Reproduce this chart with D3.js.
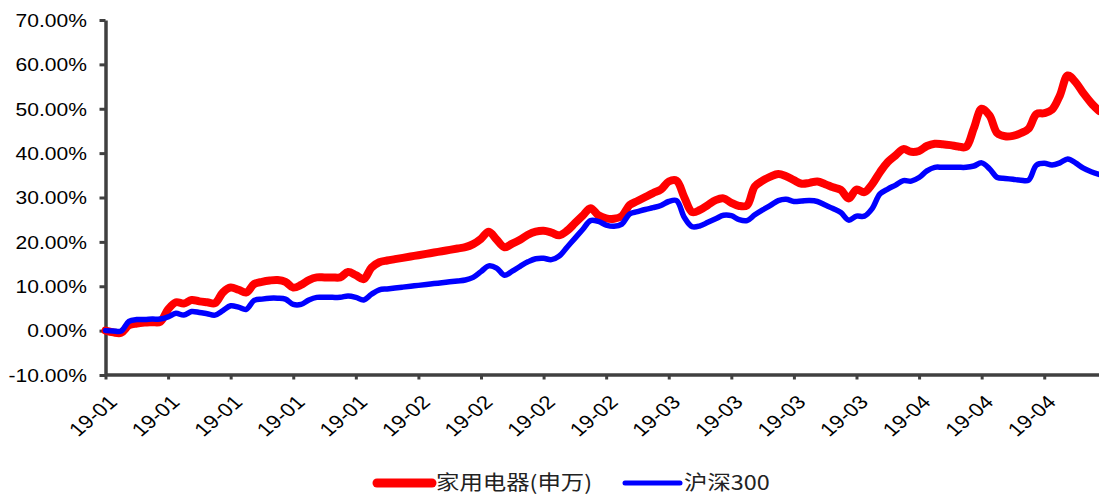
<!DOCTYPE html>
<html>
<head>
<meta charset="utf-8">
<script src="https://cdn.jsdelivr.net/npm/d3@7"></script>
<style>
body { margin: 0; background: #fff; }
svg { display: block; }
</style>
</head>
<body>
<div id="chart"></div>
<script>
// tick labels shown under every 8th point
const tickLabels = ["19-01", "19-01", "19-01", "19-01", "19-01", "19-02", "19-02", "19-02",
    "19-02", "19-03", "19-03", "19-03", "19-03", "19-04", "19-04", "19-04"];

const seriesNames = ["家用电器(申万)", "沪深300"];

// cumulative return, %
const homeAppliances = [
    0.0, -0.4, -0.5, 1.2, 1.6, 1.8, 1.9, 2.0, 4.8, 6.4,
    6.1, 6.9, 6.6, 6.4, 6.2, 8.6, 9.7, 9.2, 8.6, 10.5,
    11.0, 11.3, 11.4, 11.0, 9.7, 10.3, 11.4, 12.0, 12.0, 12.0,
    12.0, 13.2, 12.5, 11.6, 14.2, 15.4, 15.8, 16.1, 16.4, 16.7,
    17.0, 17.3, 17.6, 17.9, 18.2, 18.5, 18.8, 19.5, 20.7, 22.3,
    20.5, 18.8, 19.6, 20.5, 21.6, 22.3, 22.5, 22.1, 21.5, 22.5,
    24.2, 25.9, 27.6, 26.0, 25.3, 25.2, 25.8, 28.3, 29.2, 30.1,
    31.0, 31.8, 33.6, 33.8, 30.0, 26.7, 27.2, 28.3, 29.4, 29.8,
    28.8, 28.1, 28.2, 32.5, 33.8, 34.7, 35.3, 34.8, 33.9, 33.1,
    33.3, 33.6, 33.0, 32.3, 31.7, 29.8, 31.8, 31.2, 33.0, 35.7,
    38.0, 39.5, 40.9, 40.3, 40.5, 41.6, 42.1, 42.0, 41.8, 41.5,
    41.4, 45.6, 50.0, 48.5, 44.5, 43.8, 43.9, 44.5, 45.5, 48.8,
    49.0, 49.8, 53.0, 57.5, 56.0, 53.5, 51.3, 49.5
];

const csi300 = [
    0.0, -0.1, -0.1, 2.1, 2.5, 2.5, 2.6, 2.6, 3.1, 3.9,
    3.5, 4.3, 4.1, 3.8, 3.5, 4.5, 5.6, 5.3, 4.8, 6.8,
    7.1, 7.3, 7.3, 7.1, 5.9, 5.9, 6.9, 7.5, 7.5, 7.5,
    7.5, 7.8, 7.5, 6.9, 8.2, 9.2, 9.4, 9.6, 9.8, 10.0,
    10.2, 10.4, 10.6, 10.8, 11.0, 11.2, 11.4, 12.0, 13.3, 14.6,
    14.1, 12.5, 13.4, 14.5, 15.5, 16.2, 16.3, 16.0, 16.8, 18.8,
    20.8, 22.8, 24.8, 24.6, 23.8, 23.5, 24.0, 26.3, 26.8, 27.3,
    27.7, 28.2, 29.1, 29.3, 25.5, 23.4, 23.6, 24.4, 25.2, 26.0,
    25.9, 25.0, 24.8, 26.1, 27.2, 28.2, 29.3, 29.6, 29.1, 29.2,
    29.3, 29.1, 28.3, 27.5, 26.6, 24.9, 25.8, 25.8, 27.5, 30.8,
    31.9, 32.8, 33.8, 33.7, 34.5, 36.0, 36.8, 36.8, 36.8, 36.8,
    36.8, 37.1, 37.8, 36.5, 34.5, 34.3, 34.1, 33.9, 33.9, 37.3,
    37.7, 37.3, 37.8, 38.7, 37.8, 36.6, 35.8, 35.2
];

const yTicks = [-10, 0, 10, 20, 30, 40, 50, 60, 70];

let width = 1099;
let height = 496;
let stretch = 1.17;   // text in the original is widened
let axisColor = "#404040";
let colors = ["#ff0000", "#0000ff"];
let lineWidths = [8, 5.5];

let svg = d3.select("#chart").append("svg")
    .attr("width", width)
    .attr("height", height);

let x = d3.scaleLinear().domain([0, homeAppliances.length - 1]).range([105.5, 1099]);
let y = d3.scaleLinear().domain([-10, 70]).range([375, 20]);

// y axis
let yAxis = svg.append("g")
    .attr("transform", "translate(105.5,0)")
    .call(d3.axisLeft(y).tickValues(yTicks).tickSize(6).tickSizeOuter(0));

yAxis.select(".domain").attr("stroke", axisColor).attr("stroke-width", 3.5);
yAxis.selectAll(".tick line").attr("stroke", axisColor).attr("stroke-width", 3);
yAxis.selectAll(".tick text")
    .attr("x", null)
    .attr("dy", "0.35em")
    .attr("transform", "translate(-18.5,0) scale(" + stretch + ",1)")
    .attr("text-anchor", "end")
    .attr("fill", "#000")
    .style("font-family", "'Liberation Sans', Arial, sans-serif")
    .style("font-size", "18px")
    .text(d => d.toFixed(2) + "%");

// x axis
let xAxis = svg.append("g")
    .attr("transform", "translate(0,374.5)")
    .call(d3.axisBottom(x)
        .tickValues(d3.range(0, 121, 8))
        .tickSize(5)
        .tickSizeOuter(0)
        .tickFormat((d, i) => tickLabels[i]));

xAxis.select(".domain").attr("stroke", axisColor).attr("stroke-width", 3.5);
xAxis.selectAll(".tick line").attr("stroke", axisColor).attr("stroke-width", 3);
xAxis.selectAll(".tick text")
    .attr("y", null)
    .attr("dy", "0.35em")
    .attr("transform", "translate(7,24) scale(" + stretch + ",1) rotate(-45)")
    .attr("text-anchor", "end")
    .attr("fill", "#000")
    .style("font-family", "'Liberation Sans', Arial, sans-serif")
    .style("font-size", "19px");

// lines
let line = d3.line()
    .x((d, i) => x(i))
    .y(d => y(d))
    .curve(d3.curveCatmullRom.alpha(0.5));

[homeAppliances, csi300].forEach((series, k) => {
    svg.append("path")
        .datum(series)
        .attr("fill", "none")
        .attr("stroke", colors[k])
        .attr("stroke-width", lineWidths[k])
        .attr("stroke-linejoin", "round")
        .attr("stroke-linecap", "round")
        .attr("d", line);
});

// legend
let legendX = [377, 625];
seriesNames.forEach((name, k) => {
    svg.append("line")
        .attr("x1", legendX[k])
        .attr("x2", legendX[k] + 55)
        .attr("y1", 483)
        .attr("y2", 483)
        .attr("stroke", colors[k])
        .attr("stroke-width", k == 0 ? 9 : 5)
        .attr("stroke-linecap", "round");

    svg.append("text")
        .attr("transform", "translate(" + (legendX[k] + 59) + ",483) scale(" + stretch + ",1)")
        .attr("dy", "0.35em")
        .attr("fill", "#222")
        .style("font-family", "'Noto Sans CJK SC', 'Noto Sans', sans-serif")
        .style("font-size", "20px")
        .text(name);
});
</script>
</body>
</html>
